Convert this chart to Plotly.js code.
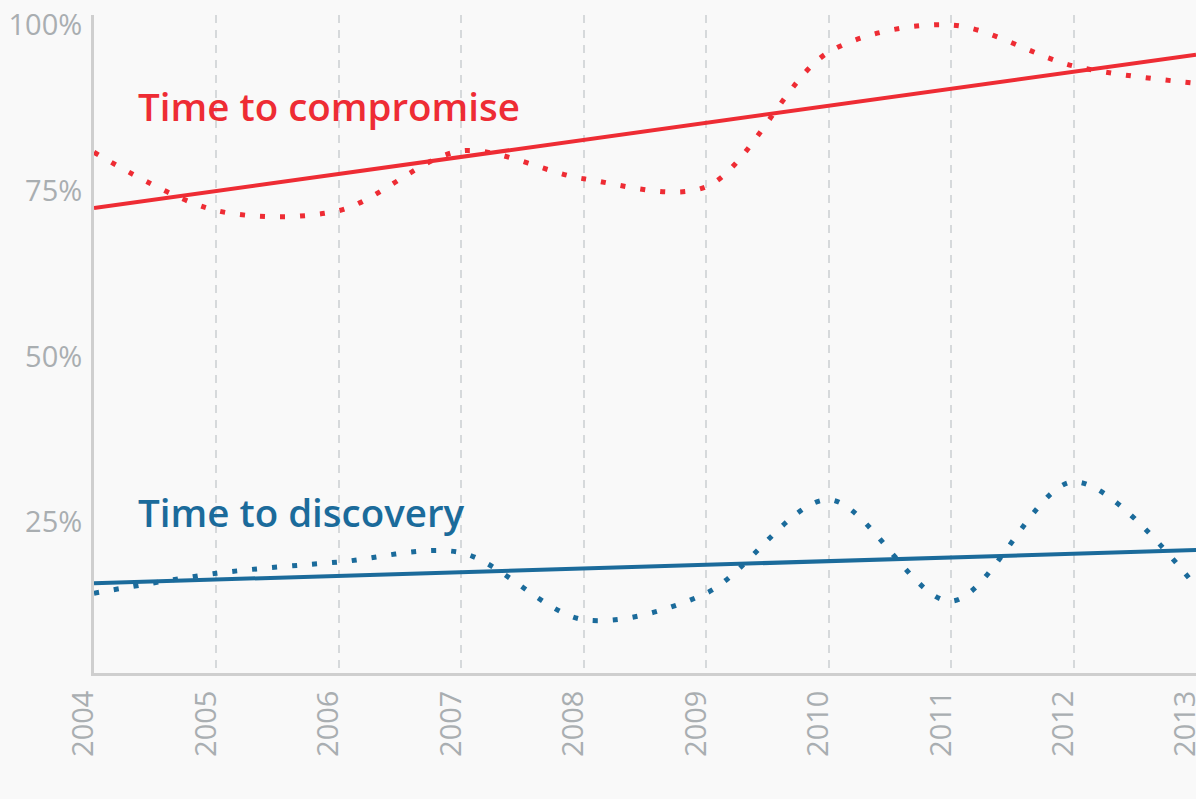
<!DOCTYPE html>
<html>
<head>
<meta charset="utf-8">
<script src="https://cdn.plot.ly/plotly-3.0.1.min.js"></script>
<style>
html,body{margin:0;padding:0;background:#f9f9f9;}
#chart{width:1196px;height:799px;}
</style>
</head>
<body>
<div id="chart"></div>
<script>
// Years on the x axis
const years = [2004, 2005, 2006, 2007, 2008, 2009, 2010, 2011, 2012, 2013];
// Yearly values (percent)
const compromiseValues = [80.8, 72.0, 72.0, 81.0, 76.8, 75.6, 95.9, 100.0, 93.8, 91.2];
const discoveryValues  = [14.3, 17.3, 19.0, 20.4, 10.3, 14.3, 28.4, 13.1, 31.1, 15.3];
// Linear trend endpoints (percent at first and last year)
const trendYears = [2004, 2013];
const compromiseTrend = [72.4, 95.5];
const discoveryTrend  = [15.8, 20.8];
// Tick labels
const yTickVals = [25, 50, 75, 100];
const yTickText = ['25%', '50%', '75%', '100%'];
const seriesNames = ['Time to compromise', 'Time to discovery'];

const red = '#ee2c34';
const blue = '#1b6b9b';

const traces = [
  {x: years, y: compromiseValues, mode: 'lines', type: 'scatter',
   line: {color: red, width: 5, shape: 'spline', smoothing: 0.9, dash: '5px,15px'}, hoverinfo: 'skip'},
  {x: years, y: discoveryValues, mode: 'lines', type: 'scatter',
   line: {color: blue, width: 5, shape: 'spline', smoothing: 0.9, dash: '5px,15px'}, hoverinfo: 'skip'},
  {x: trendYears, y: compromiseTrend, mode: 'lines', type: 'scatter',
   line: {color: red, width: 4}},
  {x: trendYears, y: discoveryTrend, mode: 'lines', type: 'scatter',
   line: {color: blue, width: 4}}
];

const tickFont = {family: 'Open Sans, sans-serif', size: 29, color: '#a9aeb1', weight: 400};

const layout = {
  width: 1196, height: 799,
  margin: {l: 94, r: 0, t: 15, b: 126, pad: 0},
  paper_bgcolor: '#f9f9f9',
  plot_bgcolor: '#f9f9f9',
  showlegend: false,
  xaxis: {
    range: [2004, 2013],
    tickvals: years,
    ticktext: years.map(String),
    tickangle: -90,
    tickfont: tickFont,
    ticks: '',
    ticklabelstandoff: 3,
    ticklabelshift: -10,
    ticklabeloverflow: 'allow',
    showgrid: true,
    gridcolor: '#d6d9db',
    gridwidth: 2,
    griddash: '8px,7px',
    showline: true,
    linecolor: '#cfcfcf',
    linewidth: 3,
    zeroline: false,
    fixedrange: true
  },
  yaxis: {
    range: [2.26, 101.5],
    tickvals: yTickVals,
    ticktext: yTickText,
    tickfont: tickFont,
    ticks: '',
    ticklabelstandoff: 3,
    ticklabeloverflow: 'allow',
    showgrid: false,
    showline: true,
    linecolor: '#cfcfcf',
    linewidth: 3,
    zeroline: false,
    fixedrange: true
  },
  annotations: [
    {x: 2004.345, y: 87.8, xref: 'x', yref: 'y', text: seriesNames[0], showarrow: false,
     xanchor: 'left', yanchor: 'middle',
     font: {family: 'Open Sans, sans-serif', size: 38.5, color: red, weight: 600}},
    {x: 2004.345, y: 26.5, xref: 'x', yref: 'y', text: seriesNames[1], showarrow: false,
     xanchor: 'left', yanchor: 'middle',
     font: {family: 'Open Sans, sans-serif', size: 38.5, color: blue, weight: 600}}
  ]
};

Plotly.newPlot('chart', traces, layout, {displayModeBar: false, staticPlot: true});
</script>
</body>
</html>
